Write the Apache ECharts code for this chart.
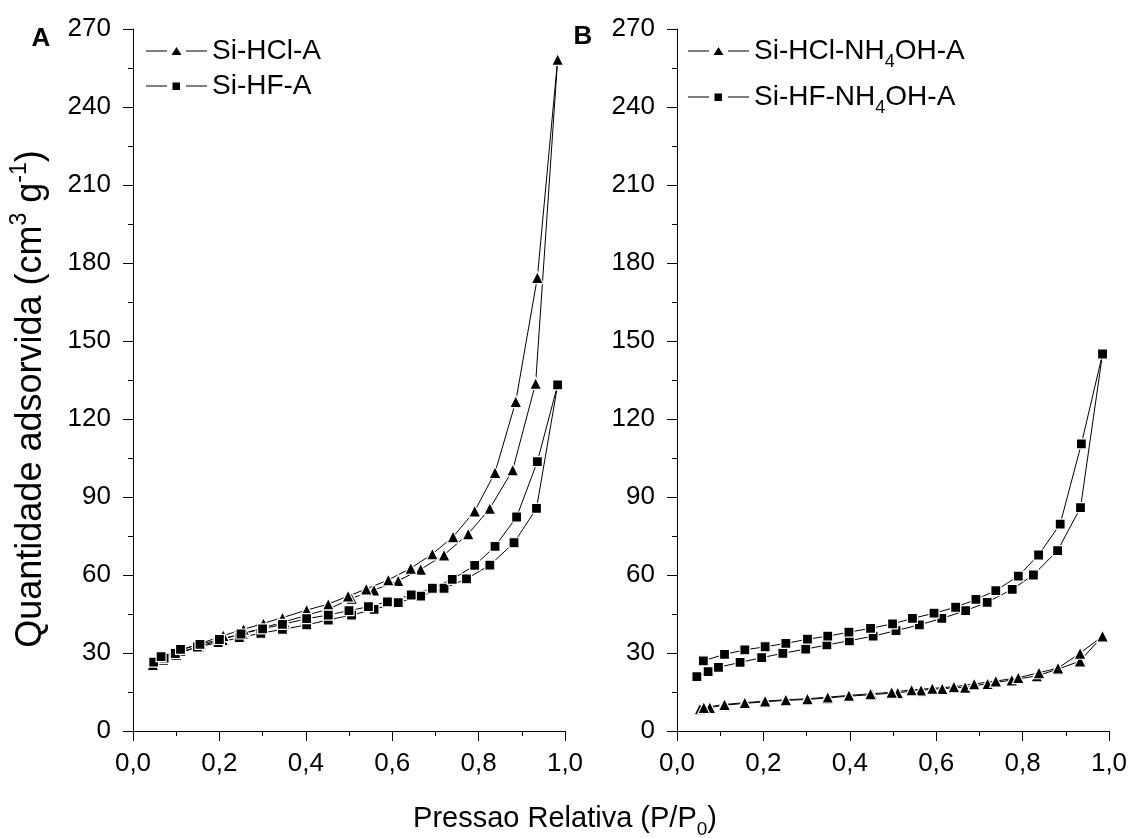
<!DOCTYPE html>
<html>
<head>
<meta charset="utf-8">
<script src="https://cdn.jsdelivr.net/npm/echarts@6/dist/echarts.min.js"></script>
<style>
html,body{margin:0;padding:0;background:#fff;}
#chart{width:1131px;height:838px;}
</style>
</head>
<body>
<div id="chart"></div>
<script>
// ---------- Data ----------
// Panel A : Si-HCl-A (triangles)
const hclA_adsP = [0.046,0.070,0.100,0.152,0.207,0.254,0.300,0.350,0.402,0.454,0.506,0.558,0.614,0.666,0.720,0.776,0.826,0.879,0.932,0.983];
const hclA_adsV = [25.5,27.5,29.5,32.5,35.2,37.5,39.6,42.0,44.5,47.0,51.0,54.2,57.8,62.2,67.7,75.8,85.6,100.4,133.7,258.3];
const hclA_desP = [0.936,0.886,0.838,0.791,0.741,0.693,0.643,0.591,0.540,0.498,0.452,0.402,0.346,0.302,0.256,0.209,0.157,0.110,0.065];
const hclA_desV = [174.4,126.7,99.4,84.6,74.7,68.1,62.6,58.1,54.6,51.9,48.8,46.5,43.6,41.4,39.1,36.7,33.7,31.0,28.2];
// Panel A : Si-HF-A (squares)
const hfA_adsP = [0.048,0.072,0.098,0.149,0.197,0.246,0.296,0.346,0.402,0.452,0.506,0.558,0.614,0.666,0.720,0.772,0.826,0.882,0.934,0.983];
const hfA_adsV = [26.5,28.0,29.8,32.3,34.0,35.9,37.6,39.1,40.8,42.7,44.6,46.8,49.4,51.9,54.9,58.5,63.8,72.4,85.6,133.1];
const hfA_desP = [0.936,0.888,0.838,0.791,0.739,0.693,0.644,0.589,0.545,0.500,0.452,0.402,0.346,0.300,0.250,0.200,0.155,0.110,0.065];
const hfA_desV = [103.6,82.3,71.0,63.7,58.3,54.9,52.3,49.7,47.8,46.3,44.6,43.2,41.0,39.3,37.3,35.2,33.3,31.4,28.6];
// Panel B : Si-HCl-NH4OH-A (triangles)
const hclB_adsP = [0.053,0.076,0.107,0.155,0.201,0.251,0.300,0.347,0.398,0.452,0.511,0.565,0.614,0.667,0.719,0.775,0.833,0.882,0.933,0.985];
const hclB_adsV = [8.5,9.0,9.9,10.6,11.2,11.8,12.1,12.7,13.4,14.0,14.7,15.7,16.3,16.8,18.2,19.6,21.2,23.8,26.9,36.5];
const hclB_desP = [0.933,0.882,0.838,0.790,0.738,0.688,0.641,0.591,0.543,0.497,0.448,0.398,0.349,0.302,0.252,0.204,0.157,0.110,0.062];
const hclB_desV = [29.9,24.2,22.4,20.5,19.2,18.1,17.0,16.4,15.8,14.9,14.3,13.7,13.0,12.4,12.0,11.5,10.9,10.2,9.0];
// Panel B : Si-HF-NH4OH-A (squares)
const hfB_adsP = [0.046,0.072,0.096,0.146,0.196,0.245,0.298,0.347,0.399,0.454,0.507,0.561,0.613,0.668,0.718,0.776,0.825,0.881,0.934,0.985];
const hfB_adsV = [20.9,22.8,24.5,26.4,28.2,29.9,31.5,33.1,34.7,36.5,38.6,40.8,43.3,46.3,49.5,54.5,60.0,69.4,85.9,145.0];
const hfB_desP = [0.936,0.887,0.837,0.790,0.738,0.692,0.645,0.595,0.545,0.499,0.448,0.398,0.349,0.302,0.252,0.204,0.157,0.110,0.061];
const hfB_desV = [110.4,79.6,67.7,59.6,54.0,50.6,47.6,45.3,43.3,41.2,39.5,38.0,36.5,35.3,33.7,32.4,31.2,29.5,27.0];

const seriesNames = ['Si-HCl-A','Si-HF-A','Si-HCl-NH4OH-A','Si-HF-NH4OH-A'];
const xTickValues = [0,0.2,0.4,0.6,0.8,1.0];
const yTickValues = [0,30,60,90,120,150,180,210,240,270];
const panelLabels = ['A','B'];
const xTitle = 'Pressao Relativa (P/P{sub|0})';
const yTitle = 'Quantidade adsorvida (cm{sup|3} g{sup|-1})';

// ---------- Build ----------
function loop(aP,aV,dP,dV){
  const out=[];
  for(let i=0;i<aP.length;i++) out.push([aP[i],aV[i]]);
  for(let i=0;i<dP.length;i++) out.push([dP[i],dV[i]]);
  return out;
}
const FONT = '"Liberation Sans", Arial, sans-serif';
const BLACK = '#000';

function xAxis(gi){
  return {
    type:'value', gridIndex:gi, min:0, max:1, interval:0.2,
    axisLine:{show:true,onZero:false,lineStyle:{color:BLACK,width:1}},
    axisTick:{show:true,inside:false,length:10,lineStyle:{color:BLACK,width:1}},
    minorTick:{show:true,splitNumber:2,length:5,lineStyle:{color:BLACK,width:1}},
    splitLine:{show:false}, minorSplitLine:{show:false},
    axisLabel:{margin:20,fontSize:26,fontFamily:FONT,color:BLACK,
      formatter:v=>v.toFixed(1).replace('.',',')}
  };
}
function yAxis(gi){
  return {
    type:'value', gridIndex:gi, min:0, max:270, interval:30,
    axisLine:{show:true,onZero:false,lineStyle:{color:BLACK,width:1}},
    axisTick:{show:true,inside:false,length:10,lineStyle:{color:BLACK,width:1}},
    minorTick:{show:true,splitNumber:2,length:5,lineStyle:{color:BLACK,width:1}},
    splitLine:{show:false}, minorSplitLine:{show:false},
    axisLabel:{margin:22,fontSize:26,fontFamily:FONT,color:BLACK}
  };
}
function mkSeries(name,gi,data,sym,size){
  return {
    name:name, type:'line', xAxisIndex:gi, yAxisIndex:gi, data:data,
    symbol:sym, symbolSize:size, showSymbol:true, showAllSymbol:true,
    lineStyle:{color:BLACK,width:1},
    itemStyle:{color:BLACK,borderColor:'#fff',borderWidth:1.2},
    emphasis:{disabled:true}, animation:false, z:2
  };
}
// legend icons: "— marker —" with gaps (61 x 8 box)
const ICON_TRI = 'path://M0,3.4L21,3.4L21,4.6L0,4.6Z M25.5,8L30.5,0L35.5,8Z M40,3.4L61,3.4L61,4.6L40,4.6Z';
const ICON_SQ  = 'path://M0,3.4L21,3.4L21,4.6L0,4.6Z M26.5,0.5L34,0.5L34,8L26.5,8Z M40,3.4L61,3.4L61,4.6L40,4.6Z M0,0L0.01,0L0.01,0.01Z';
const legendRich = {sub:{fontSize:18,fontFamily:FONT,color:BLACK,verticalAlign:'bottom',lineHeight:40}};

const chart = echarts.init(document.getElementById('chart'),null,{renderer:'canvas'});
chart.setOption({
  backgroundColor:'#fff',
  animation:false,
  grid:[
    {left:133,right:566,top:29,bottom:107,containLabel:false},
    {left:677,right:22,top:29,bottom:107,containLabel:false}
  ],
  xAxis:[xAxis(0),xAxis(1)],
  yAxis:[yAxis(0),yAxis(1)],
  legend:[
    {data:[{name:seriesNames[0],icon:ICON_TRI},{name:seriesNames[1],icon:ICON_SQ}],
     orient:'vertical',left:141,top:31,
     itemWidth:61,itemHeight:8,itemGap:5,
     itemStyle:{color:BLACK,borderWidth:0},
     textStyle:{fontSize:28,fontFamily:FONT,color:BLACK,lineHeight:30},selectedMode:false},
    {data:[{name:seriesNames[2],icon:ICON_TRI},{name:seriesNames[3],icon:ICON_SQ}],
     orient:'vertical',left:683,top:26,
     itemWidth:61,itemHeight:8,itemGap:6,
     itemStyle:{color:BLACK,borderWidth:0},
     formatter:n=>n.replace('NH4','NH{sub|4}'),
     textStyle:{fontSize:28,fontFamily:FONT,color:BLACK,lineHeight:40,rich:legendRich},selectedMode:false}
  ],
  series:[
    mkSeries(seriesNames[0],0,loop(hclA_adsP,hclA_adsV,hclA_desP,hclA_desV),'triangle',12),
    mkSeries(seriesNames[1],0,loop(hfA_adsP,hfA_adsV,hfA_desP,hfA_desV),'rect',10),
    mkSeries(seriesNames[2],1,loop(hclB_adsP,hclB_adsV,hclB_desP,hclB_desV),'triangle',12),
    mkSeries(seriesNames[3],1,loop(hfB_adsP,hfB_adsV,hfB_desP,hfB_desV),'rect',10)
  ],
  graphic:[
    {type:'text',x:41,y:39,style:{text:panelLabels[0],font:'bold 26px '+FONT,fill:BLACK,align:'center',verticalAlign:'middle'}},
    {type:'text',x:583,y:37,style:{text:panelLabels[1],font:'bold 26px '+FONT,fill:BLACK,align:'center',verticalAlign:'middle'}},
    {type:'text',x:565,y:819,style:{text:xTitle,fontSize:29,fontFamily:FONT,fill:BLACK,align:'center',verticalAlign:'middle',lineHeight:40,
      rich:{sub:{fontSize:19,fontFamily:FONT,fill:BLACK,verticalAlign:'bottom',lineHeight:40}}}},
    {type:'text',x:31,y:399,rotation:Math.PI/2,style:{text:yTitle,fontSize:36,fontFamily:FONT,fill:BLACK,align:'center',verticalAlign:'middle',lineHeight:46,
      rich:{sup:{fontSize:23,fontFamily:FONT,fill:BLACK,verticalAlign:'top',lineHeight:46}}}}
  ]
});
</script>
</body>
</html>
